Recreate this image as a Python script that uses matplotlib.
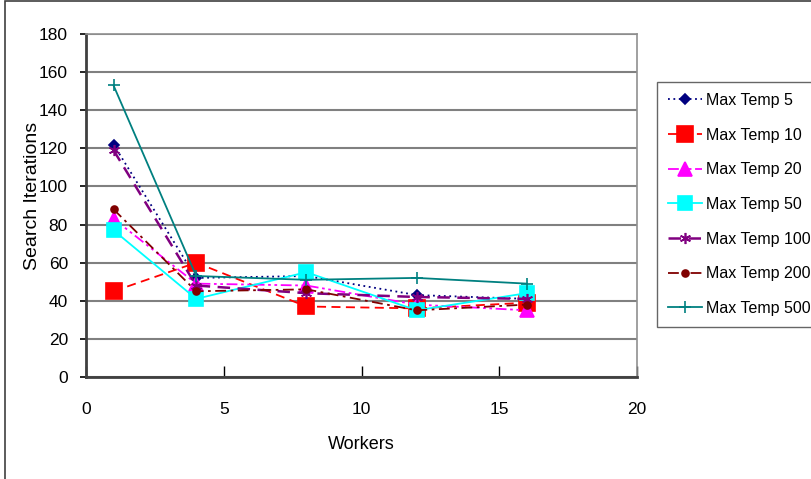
import matplotlib.pyplot as plt
from matplotlib.patches import Rectangle

plt.rcParams['font.family'] = ['Liberation Sans', 'DejaVu Sans']

# search iterations per number of workers, one series per max temperature
workers = [1, 4, 8, 12, 16]
temp5 = [122, 52, 53, 43, 41]
temp10 = [45, 60, 37, 36, 39]
temp20 = [83, 49, 48, 38, 35]
temp50 = [77, 41, 55, 35, 44]
temp100 = [119, 48, 44, 42, 41]
temp200 = [88, 45, 46, 35, 38]
temp500 = [153, 53, 51, 52, 49]
labels = ['Max Temp 5', 'Max Temp 10', 'Max Temp 20', 'Max Temp 50',
          'Max Temp 100', 'Max Temp 200', 'Max Temp 500']

styles = [
    dict(color='#000080', ls=(0, (1, 2)), marker='D', ms=5),
    dict(color='#FF0000', ls=(0, (5, 3)), marker='s', ms=11),
    dict(color='#FF00FF', ls=(0, (6, 2, 1.5, 2, 1.5, 2)), marker='^', ms=10),
    dict(color='#00FFFF', ls='-', marker='s', ms=10),
    dict(color='#800080', ls=(0, (5, 3)), marker=(6, 2, 0), ms=8, lw=1.8),
    dict(color='#800000', ls=(0, (6, 2.5, 1.5, 2.5)), marker='o', ms=5),
    dict(color='#008080', ls='-', marker='+', ms=8),
]
series = [temp5, temp10, temp20, temp50, temp100, temp200, temp500]

fig = plt.figure(figsize=(8.12, 4.79), dpi=100)
ax = fig.add_axes([86 / 812, 1 - 377 / 479, 551 / 812, 343 / 479])

# outer chart border
fig.patches.append(Rectangle((5 / 812, -0.1), 1.2, 1.1 - 1.5 / 479,
                             transform=fig.transFigure, fill=False,
                             ec='#404040', lw=1.2))

for vals, lab, st in zip(series, labels, styles):
    st = dict(st)
    lw = st.pop('lw', 1.3)
    ax.plot(workers, vals, label=lab, lw=lw, mew=1.2, **st)

ax.set_xlim(0, 20)
ax.set_ylim(0, 180)
ax.set_xticks(range(0, 21, 5))
ax.set_yticks(range(0, 181, 20))
ax.yaxis.grid(True, color='#808080', lw=1.5)
ax.set_axisbelow(True)

for side in ['top', 'right']:
    ax.spines[side].set_color('#909090')
    ax.spines[side].set_linewidth(1.2)
for side in ['left', 'bottom']:
    ax.spines[side].set_color('#404040')
    ax.spines[side].set_linewidth(2)

ax.tick_params(axis='y', direction='out', length=4, width=1.2,
               labelsize=12.5, pad=9)
ax.tick_params(axis='x', direction='in', length=8, width=1,
               labelsize=12.5, pad=18)

ax.set_xlabel('Workers', fontsize=13)
ax.xaxis.set_label_coords(0.5, -0.172)
ax.set_ylabel('Search Iterations', fontsize=14)
ax.yaxis.set_label_coords(-0.082, 0.528)

fig.legend(loc='upper left', bbox_to_anchor=(657 / 812, 1 - 82 / 479),
           fontsize=11.5, frameon=True, fancybox=False, edgecolor='#404040',
           handlelength=2.1, labelspacing=1.23, borderpad=0.69,
           handletextpad=0.28, borderaxespad=0)

fig.savefig('out.png', dpi=100)
